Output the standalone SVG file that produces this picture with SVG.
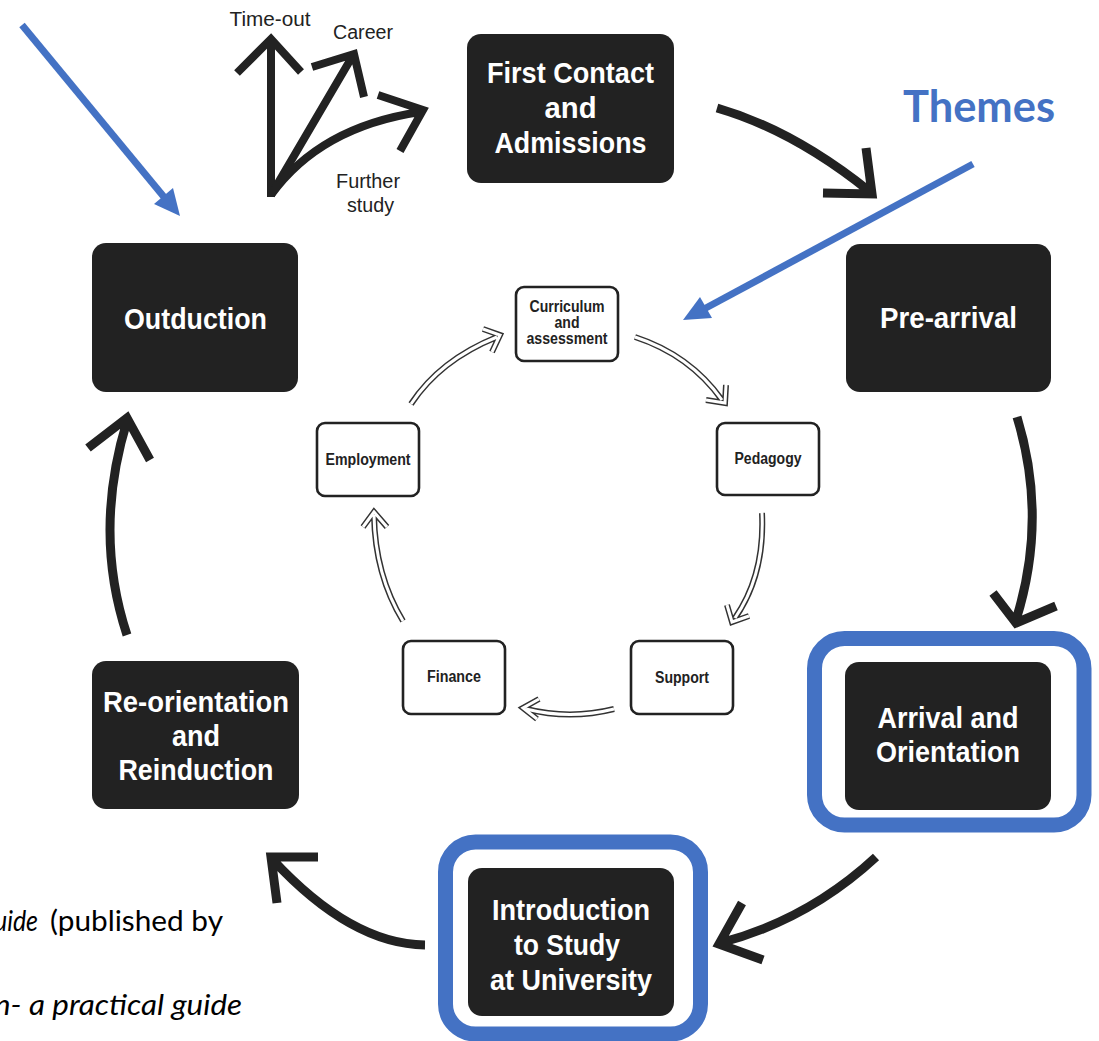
<svg xmlns="http://www.w3.org/2000/svg" xmlns:xlink="http://www.w3.org/1999/xlink" width="1099" height="1041" viewBox="0 0 1099 1041">
  <style>
    .stage { fill: #222; }
    .stage-t { fill: #fff; font-family: "Liberation Sans Narrow", "Liberation Sans", Arial, sans-serif; font-weight: bold; font-size: 30px; text-anchor: middle; }
    .theme { fill: #fff; stroke: #222; stroke-width: 2.6; }
    .theme-t { fill: #222; font-family: "Liberation Sans Narrow", "Liberation Sans", Arial, sans-serif; font-weight: bold; font-size: 16px; text-anchor: middle; }
    .ring { fill: none; stroke: #4472C4; stroke-width: 15; }
    .flow { fill: none; stroke: #222; stroke-width: 9; stroke-linecap: butt; stroke-linejoin: miter; }
    .exit { fill: none; stroke: #222; stroke-width: 8; stroke-linecap: butt; stroke-linejoin: miter; }
    .hollow-out { fill: none; stroke: #333; stroke-width: 6; stroke-linejoin: miter; }
    .hollow-in { fill: none; stroke: #fff; stroke-width: 3; stroke-linejoin: miter; }
    .pointer { fill: none; stroke: #4472C4; stroke-width: 7; }
    .pointer-head { fill: #4472C4; }
    .exit-t { fill: #222; font-family: "Liberation Sans Narrow", "Liberation Sans", Arial, sans-serif; font-size: 20px; text-anchor: middle; }
    .note { fill: #000; font-family: Lato, "Open Sans", "Liberation Sans", sans-serif; font-size: 29px; }
  </style>
  <defs>
    <!-- shafts and heads of the outlined theme arrows -->
    <path id="h1" d="M411,404 Q440,360 497,337 M483,329 L500,335 L492,352"/>
    <path id="h2" d="M635,337 Q690,355 722,400 M706,400 L725,403 L726,385"/>
    <path id="h3" d="M762,513 Q765,575 735,618 M727,605 L732,622 L749,616"/>
    <path id="h4" d="M614,709 Q570,720 526,709 M539,699 L523,708 L537,719"/>
    <path id="h5" d="M403,621 Q375,575 374,515 M363,527 L374,512 L387,527"/>
  </defs>

  <rect width="1099" height="1041" fill="#fff"/>

  <!-- highlight rings -->
  <g id="highlights">
    <rect class="ring" x="814.5" y="638.5" width="269.5" height="186.5" rx="30"/>
    <rect class="ring" x="445.5" y="842" width="255" height="192" rx="30"/>
  </g>

  <!-- cycle stages -->
  <g id="first-contact">
    <rect class="stage" x="467" y="34" width="207" height="149" rx="14"/>
    <text class="stage-t" x="570.5" y="83" textLength="167" lengthAdjust="spacingAndGlyphs">First Contact</text>
    <text class="stage-t" x="570.5" y="118" textLength="52" lengthAdjust="spacingAndGlyphs">and</text>
    <text class="stage-t" x="570.5" y="153" textLength="152" lengthAdjust="spacingAndGlyphs">Admissions</text>
  </g>
  <g id="pre-arrival">
    <rect class="stage" x="846" y="244" width="205" height="148" rx="14"/>
    <text class="stage-t" x="948.5" y="328" textLength="137" lengthAdjust="spacingAndGlyphs">Pre-arrival</text>
  </g>
  <g id="arrival">
    <rect class="stage" x="845" y="662" width="206" height="148" rx="14"/>
    <text class="stage-t" x="948" y="728" textLength="141" lengthAdjust="spacingAndGlyphs">Arrival and</text>
    <text class="stage-t" x="948" y="762" textLength="144" lengthAdjust="spacingAndGlyphs">Orientation</text>
  </g>
  <g id="introduction">
    <rect class="stage" x="468" y="868" width="206" height="148" rx="14"/>
    <text class="stage-t" x="571" y="920" textLength="158" lengthAdjust="spacingAndGlyphs">Introduction</text>
    <text class="stage-t" x="567" y="955" textLength="106" lengthAdjust="spacingAndGlyphs">to Study</text>
    <text class="stage-t" x="571" y="990" textLength="162" lengthAdjust="spacingAndGlyphs">at University</text>
  </g>
  <g id="reorientation">
    <rect class="stage" x="92" y="661" width="207" height="148" rx="14"/>
    <text class="stage-t" x="196" y="712" textLength="186" lengthAdjust="spacingAndGlyphs">Re-orientation</text>
    <text class="stage-t" x="196" y="746" textLength="48" lengthAdjust="spacingAndGlyphs">and</text>
    <text class="stage-t" x="196" y="780" textLength="155" lengthAdjust="spacingAndGlyphs">Reinduction</text>
  </g>
  <g id="outduction">
    <rect class="stage" x="92" y="243" width="206" height="149" rx="14"/>
    <text class="stage-t" x="195.5" y="329" textLength="143" lengthAdjust="spacingAndGlyphs">Outduction</text>
  </g>

  <!-- themes -->
  <g id="curriculum">
    <rect class="theme" x="516" y="287" width="102" height="74" rx="8"/>
    <text class="theme-t" x="567" y="312" textLength="75" lengthAdjust="spacingAndGlyphs">Curriculum</text>
    <text class="theme-t" x="567" y="328" textLength="25" lengthAdjust="spacingAndGlyphs">and</text>
    <text class="theme-t" x="567" y="344" textLength="81" lengthAdjust="spacingAndGlyphs">assessment</text>
  </g>
  <g id="pedagogy">
    <rect class="theme" x="717" y="423" width="102" height="72" rx="8"/>
    <text class="theme-t" x="768" y="464" textLength="67" lengthAdjust="spacingAndGlyphs">Pedagogy</text>
  </g>
  <g id="support">
    <rect class="theme" x="631" y="641" width="102" height="73" rx="8"/>
    <text class="theme-t" x="682" y="683" textLength="54" lengthAdjust="spacingAndGlyphs">Support</text>
  </g>
  <g id="finance">
    <rect class="theme" x="403" y="641" width="102" height="73" rx="8"/>
    <text class="theme-t" x="454" y="682" textLength="54" lengthAdjust="spacingAndGlyphs">Finance</text>
  </g>
  <g id="employment">
    <rect class="theme" x="317" y="423" width="102" height="73" rx="8"/>
    <text class="theme-t" x="368" y="465" textLength="85" lengthAdjust="spacingAndGlyphs">Employment</text>
  </g>

  <!-- connectors -->
  <g id="connectors">
    <!-- outer cycle -->
    <path class="flow" d="M717,108 Q793,130 869,191 M866,148 L872,194 L823,193"/>
    <path class="flow" d="M1017,417 Q1048,518 1016,620 M993,593 L1016,623 L1056,606"/>
    <path class="flow" d="M876,857 Q808,920 720,943 M742,903 L719,944 L763,960"/>
    <path class="flow" d="M425,945 Q351,944 273,860 M318,857 L271,857 L277,903"/>
    <path class="flow" d="M127,635 Q93,532 127,421 M88,448 L127,418 L150,460"/>

    <!-- exits after outduction -->
    <path class="exit" d="M271,197 L271,40 M237,73 L271,39 L301,72"/>
    <path class="exit" d="M271,195 L352,57 M312,67 L354,54 L364,97"/>
    <path class="exit" d="M271,195 Q320,127 420,112 M378,95 L423,110 L400,151"/>

    <!-- theme cycle: dark outline first, white core on top -->
    <use xlink:href="#h1" class="hollow-out"/>
    <use xlink:href="#h2" class="hollow-out"/>
    <use xlink:href="#h3" class="hollow-out"/>
    <use xlink:href="#h4" class="hollow-out"/>
    <use xlink:href="#h5" class="hollow-out"/>
    <use xlink:href="#h1" class="hollow-in"/>
    <use xlink:href="#h2" class="hollow-in"/>
    <use xlink:href="#h3" class="hollow-in"/>
    <use xlink:href="#h4" class="hollow-in"/>
    <use xlink:href="#h5" class="hollow-in"/>

    <!-- blue pointers -->
    <line class="pointer" x1="22" y1="25" x2="164" y2="197"/>
    <polygon class="pointer-head" points="180,216 154,204 173,188"/>
    <line class="pointer" x1="973" y1="164" x2="704" y2="309"/>
    <polygon class="pointer-head" points="683,320 700,297 712,318"/>
  </g>

  <!-- exit labels -->
  <g id="exit-labels">
    <text class="exit-t" x="270" y="26" textLength="81" lengthAdjust="spacingAndGlyphs">Time-out</text>
    <text class="exit-t" x="363" y="39" textLength="60" lengthAdjust="spacingAndGlyphs">Career</text>
    <text class="exit-t" x="368" y="188" textLength="64" lengthAdjust="spacingAndGlyphs">Further</text>
    <text class="exit-t" x="370.5" y="212" textLength="47" lengthAdjust="spacingAndGlyphs">study</text>
  </g>

  <!-- heading -->
  <text id="themes-label" x="903" y="122" fill="#4472C4" font-family="Lato, 'Open Sans', 'Liberation Sans', sans-serif" font-weight="bold" font-size="44" textLength="152" lengthAdjust="spacingAndGlyphs">Themes</text>

  <!-- source notes, running in from the left edge -->
  <g id="notes">
    <text class="note" x="-6" y="931" font-style="italic" textLength="44" lengthAdjust="spacingAndGlyphs">uide</text>
    <text class="note" x="50" y="931" textLength="173" lengthAdjust="spacingAndGlyphs">(published by</text>
    <text class="note" x="-6" y="1015" font-style="italic" textLength="248" lengthAdjust="spacingAndGlyphs">n- a practical guide</text>
  </g>
</svg>
